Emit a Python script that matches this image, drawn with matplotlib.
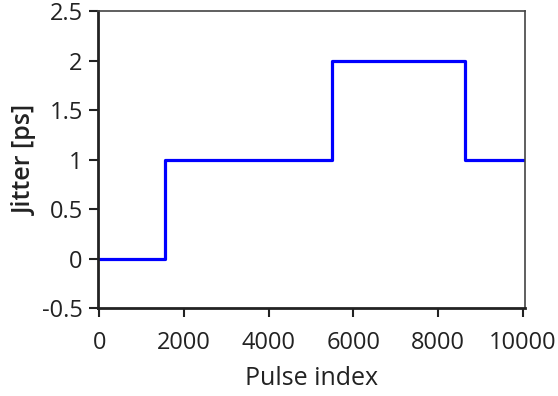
import matplotlib
matplotlib.use("Agg")
import matplotlib.pyplot as plt

# step edges of the jitter profile
pulse_idx = [0, 1560, 5490, 8640, 10000]
jitter_ps = [0, 1, 2, 1, 1]

y_ticks = [-0.5, 0, 0.5, 1, 1.5, 2, 2.5]
y_labels = ["-0.5", "0", "0.5", "1", "1.5", "2", "2.5"]
x_ticks = [0, 2000, 4000, 6000, 8000, 10000]

plt.rcParams['font.family'] = ['Open Sans', 'DejaVu Sans']
plt.rcParams['axes.unicode_minus'] = False

fig = plt.figure(figsize=(5.58, 3.96), dpi=100)
ax = fig.add_axes([0.1756, 0.2222, 0.941 - 0.1756, 0.9722 - 0.2222])

ax.step(pulse_idx, jitter_ps, where='post', color='#0000ff', lw=2.3)

ax.set_xlim(-30, 10050)
ax.set_ylim(-0.5, 2.5)
ax.set_xticks(x_ticks)
ax.set_yticks(y_ticks)
ax.set_yticklabels(y_labels)

ax.tick_params(direction='out', length=6.5, width=1.5, labelsize=17, colors='#222222')
ax.tick_params(axis='x', pad=10)
ax.tick_params(axis='y', pad=4.5)
for side in ['left', 'bottom']:
    ax.spines[side].set_linewidth(2)
    ax.spines[side].set_color('#222222')
for side in ['top', 'right']:
    ax.spines[side].set_linewidth(1.2)
    ax.spines[side].set_color('#444444')

ax.set_xlabel("Pulse index", fontsize=18, color='#222222', labelpad=8)
ax.set_ylabel("Jitter [ps]", fontsize=18, fontweight='semibold', color='#222222', labelpad=3)

fig.savefig("out.png", dpi=100)
